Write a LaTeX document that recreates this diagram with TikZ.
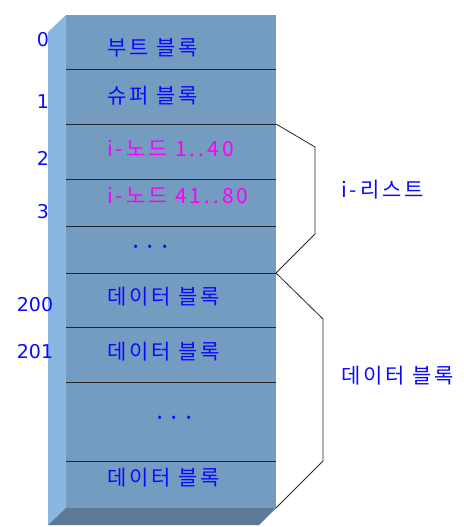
\documentclass[tikz,border=0pt]{standalone}
\usepackage{fontspec}
\setmainfont{Noto Sans CJK KR}[LetterSpace=14]
\newfontfamily\numfont{DejaVu Sans}
\usetikzlibrary{positioning}
\definecolor{frontblue}{RGB}{116,155,192}
\definecolor{sideblue}{RGB}{138,182,226}
\definecolor{bottomblue}{RGB}{92,122,152}
\definecolor{labelblue}{RGB}{10,10,255}
\definecolor{nodemagenta}{RGB}{250,0,250}

\tikzset{
  blocktext/.style={anchor=west, inner sep=0pt, font=\fontsize{21}{23}\selectfont, text=labelblue},
  inodetext/.style={blocktext, text=nodemagenta},
  numtext/.style={inner sep=0pt, font=\numfont\fontsize{19}{21}\selectfont, text=labelblue},
  dotstext/.style={blocktext, font=\fontsize{24}{24}\selectfont},
  sepline/.style={draw=black!85, line width=0.9pt},
  brace/.style={draw=black!85, line width=0.8pt}
}

\begin{document}
\begin{tikzpicture}[x=1pt, y=-1pt]
  \useasboundingbox (0,0) rectangle (463,527);
  % the disk as a block stack
  \fill[sideblue] (48,32) -- (66,15) -- (66,508) -- (48,525) -- cycle;
  \fill[bottomblue] (48,525) -- (66,508) -- (276,508) -- (259,525) -- cycle;
  \fill[frontblue] (66,15) rectangle (276,508);
  \foreach \y in {69,124,179,226,273,327,382,461}
    \draw[sepline] (66,\y) -- (276,\y);

  % block contents
  \node[blocktext] (boot) at (107,48) {부트 블록};
  \node[blocktext] (super) at (107,96) {슈퍼 블록};
  \node[inodetext] (inodeA) at (107,148) {i-노드 1..40};
  \node[inodetext] (inodeB) at (107,195) {i-노드 41..80};
  \node[dotstext] (idots) at (129,250) {·\hspace{1pt}·\hspace{1pt}·};
  \node[blocktext] (dataA) at (107,297) {데이터 블록};
  \node[blocktext] (dataB) at (107,352) {데이터 블록};
  \node[dotstext] (ddots) at (153,421) {·\hspace{1pt}·\hspace{1pt}·};
  \node[blocktext] (dataZ) at (107,478) {데이터 블록};

  % block numbers
  \node[numtext] (n0) at (43,40) {0};
  \node[numtext] (n1) at (43,102) {1};
  \node[numtext] (n2) at (43,158) {2};
  \node[numtext] (n3) at (43,212) {3};
  \node[numtext] (n200) at (35,305) {200};
  \node[numtext] (n201) at (35,352) {201};

  % area braces
  \coordinate (ilistTop) at (276,124);
  \coordinate (ilistEnd) at (276,273);
  \coordinate (dataEnd) at (276,508);
  \draw[brace] (ilistTop) -- (315,147) -- (315,234) -- (ilistEnd);
  \draw[brace] (ilistEnd) -- (323,319) -- (323,461) -- (dataEnd);
  \node[blocktext] (ilist) at (341,190) {i-리스트};
  \node[blocktext] (dataarea) at (341,376) {데이터 블록};
\end{tikzpicture}
\end{document}
